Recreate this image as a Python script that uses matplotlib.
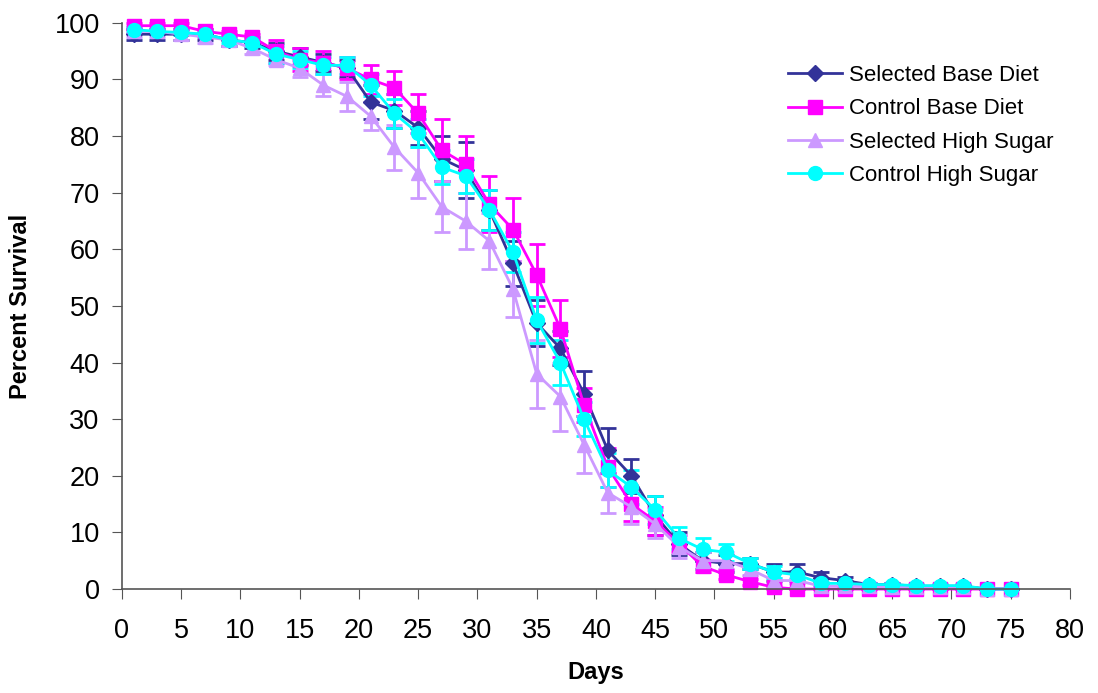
import matplotlib
matplotlib.use("Agg")
import matplotlib.pyplot as plt
from matplotlib.lines import Line2D

plt.rcParams['font.family'] = ['Liberation Sans', 'DejaVu Sans']

days = list(range(1, 76, 2))

sel_base = [98, 98, 98, 98, 97, 96.5, 95, 94, 93, 92, 86, 84.5, 81.5, 76, 74, 67, 57.5, 47, 42.5, 34.5,
            24.5, 20, 13, 8, 5, 4.5, 4.5, 3, 3, 2, 1.5, 0.8, 0.8, 0.5, 0.5, 0.5, 0, 0]
sel_base_err = [1, 1, 1, 1, 1, 1, 1.5, 1.5, 1.5, 1.5, 3, 3, 3, 4, 5, 3.5, 4, 4, 3, 4,
                4, 3, 3.5, 2, 1.5, 1.5, 1, 1.5, 1.5, 1, 0.7, 0.3, 0.3, 0.3, 0.3, 0.3, 0, 0]

ctl_base = [99.5, 99.5, 99.5, 98.5, 98, 97.5, 95, 93.5, 93, 92, 90, 88.5, 84, 77.5, 75, 68, 63.5, 55.5, 46, 32.5,
            21.5, 15, 12, 8, 4, 2.5, 1.3, 0.3, 0, 0, 0, 0, 0, 0, 0, 0, 0, 0]
ctl_base_err = [0.5, 0.5, 0.5, 0.5, 0.5, 0.5, 2, 2, 2, 2, 2.5, 3, 3.5, 5.5, 5, 5, 5.5, 5.5, 5, 3,
                3.5, 3, 2.5, 1.5, 1, 0.8, 0.5, 0.3, 0, 0, 0, 0, 0, 0, 0, 0, 0, 0]

sel_hs = [98.5, 98.5, 98, 97.5, 97, 95.5, 93.5, 92, 89, 87, 83.5, 78, 73.5, 67.5, 65, 61.5, 53, 38, 34, 25.5,
          17, 14.5, 11.5, 7.5, 5, 5, 3.5, 1.5, 1.5, 0.5, 0.5, 0.5, 0.3, 0.3, 0.3, 0.3, 0, 0]
sel_hs_err = [1, 1, 1, 1, 1, 1, 1, 1.5, 2, 2.5, 2.5, 4, 4.5, 4.5, 5, 5, 5, 6, 6, 5,
              3.5, 3, 2.5, 2, 1.5, 1.5, 1, 0.5, 0.5, 0.3, 0.3, 0.3, 0.3, 0.3, 0.3, 0.3, 0, 0]

ctl_hs = [98.8, 98.5, 98.3, 98, 97, 96.5, 94.5, 93.5, 92.5, 92.5, 89, 84, 80.5, 74.5, 73, 67, 59.5, 47.5, 40, 30,
          21, 18, 14, 9, 7, 6.5, 4.5, 3, 2.5, 1, 1, 0.8, 0.8, 0.6, 0.6, 0.6, 0, 0]
ctl_hs_err = [0.5, 0.5, 0.5, 0.5, 0.5, 0.5, 1.5, 1.5, 1.5, 1.5, 2, 2.5, 2.5, 3, 3, 3.5, 3.5, 4, 4, 3,
              3, 3, 2.5, 2, 2, 1.5, 1, 1, 0.7, 0.3, 0.3, 0.3, 0.3, 0.3, 0.3, 0.3, 0, 0]

labels = ["Selected Base Diet", "Control Base Diet", "Selected High Sugar", "Control High Sugar"]
series = [(sel_base, sel_base_err), (ctl_base, ctl_base_err), (sel_hs, sel_hs_err), (ctl_hs, ctl_hs_err)]
colors = ["#333399", "#FF00FF", "#CC99FF", "#00FFFF"]
markers = ["D", "s", "^", "o"]
msizes = [8, 10, 10, 10]

fig = plt.figure(figsize=(10.98, 6.93), dpi=100)
ax = fig.add_axes([0.111, 0.150, 0.8635, 0.817])

handles = []
for (vals, errs), c, m, ms, lab in zip(series, colors, markers, msizes, labels):
    ax.errorbar(days, vals, yerr=errs, color=c, marker=m, markersize=ms, linewidth=2,
                elinewidth=2, capsize=6, capthick=2, markeredgecolor=c, clip_on=False)
    handles.append(Line2D([0], [0], color=c, marker=m, markersize=ms, linewidth=2, label=lab))

ax.set_xlim(0, 80)
ax.set_ylim(0, 100)
ax.set_xticks(range(0, 81, 5))
ax.set_yticks(range(0, 101, 10))
ax.tick_params(axis='both', labelsize=19.5, direction='out', length=7, color='#555555')
ax.tick_params(axis='x', pad=14)
ax.tick_params(axis='y', pad=9)
for s in ['top', 'right']:
    ax.spines[s].set_visible(False)
for s in ['left', 'bottom']:
    ax.spines[s].set_color('#555555')
    ax.spines[s].set_linewidth(1.2)

ax.set_xlabel("Days", fontsize=17, fontweight='bold', labelpad=12)
ax.set_ylabel("Percent Survival", fontsize=17, fontweight='bold', labelpad=16)

leg = fig.legend(handles=handles, loc='upper left', bbox_to_anchor=(0.7177, 0.906), frameon=False,
                 fontsize=16, handlelength=2.45, labelspacing=0.55, handletextpad=0.3,
                 borderpad=0, borderaxespad=0)

fig.savefig("out.png", dpi=100)
